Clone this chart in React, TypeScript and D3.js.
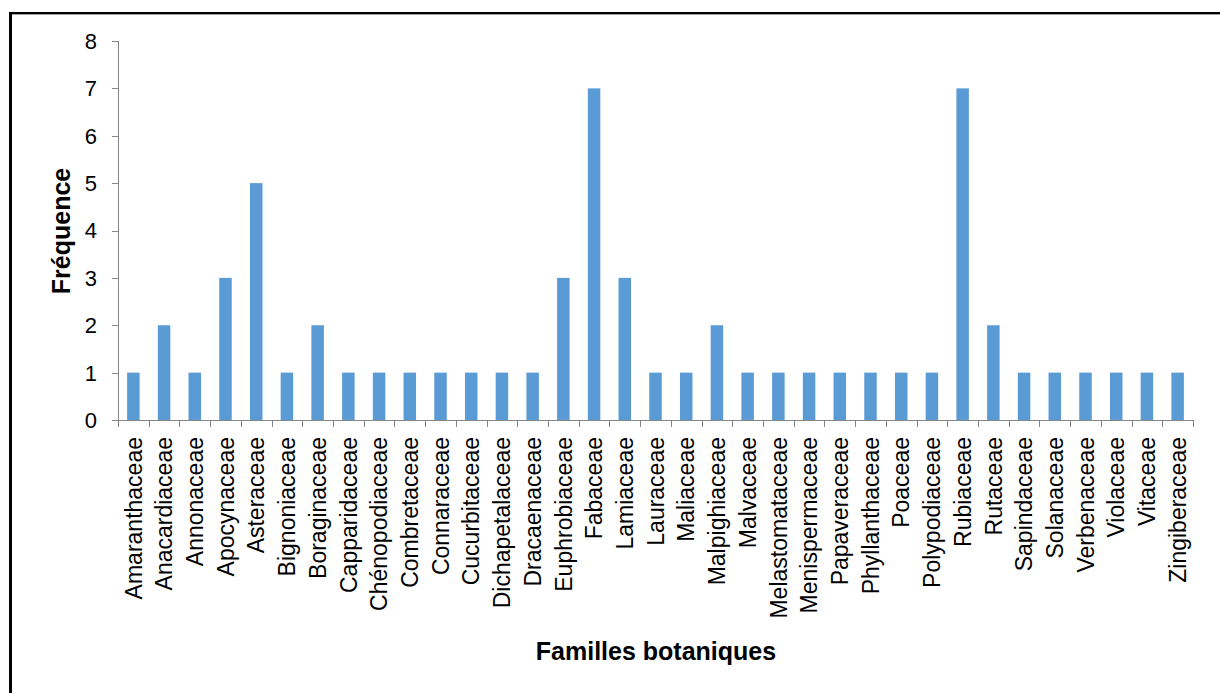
import React from "react";
import * as d3 from "d3";

const families = [
  "Amaranthaceae", "Anacardiaceae", "Annonaceae", "Apocynaceae", "Asteraceae",
  "Bignoniaceae", "Boraginaceae", "Capparidaceae", "Chénopodiaceae", "Combretaceae",
  "Connaraceae", "Cucurbitaceae", "Dichapetalaceae", "Dracaenaceae", "Euphrobiaceae",
  "Fabaceae", "Lamiaceae", "Lauraceae", "Maliaceae", "Malpighiaceae",
  "Malvaceae", "Melastomataceae", "Menispermaceae", "Papaveraceae", "Phyllanthaceae",
  "Poaceae", "Polypodiaceae", "Rubiaceae", "Rutaceae", "Sapindaceae",
  "Solanaceae", "Verbenaceae", "Violaceae", "Vitaceae", "Zingiberaceae",
];
const frequencies = [
  1, 2, 1, 3, 5,
  1, 2, 1, 1, 1,
  1, 1, 1, 1, 3,
  7, 3, 1, 1, 2,
  1, 1, 1, 1, 1,
  1, 1, 7, 2, 1,
  1, 1, 1, 1, 1,
];
const yTicks = [0, 1, 2, 3, 4, 5, 6, 7, 8];

const W = 1220, H = 693;
const left = 118, right = 1193, top = 41, bottom = 420;

export default function App() {
  const xb = d3.scaleBand<string>().domain(families).range([left, right]);
  const y = d3.scaleLinear().domain([0, 8]).range([bottom, top]);
  const font = "'Liberation Sans', Arial, sans-serif";
  const boundaries = d3.range(families.length + 1).map((i) => left + i * xb.step());
  return (
    <svg width={W} height={H} style={{ position: "absolute", left: 0, top: 0, background: "#fff" }}>
      <rect x={0} y={0} width={W} height={H} fill="#fff" />
      {/* frame */}
      <line x1={10.5} y1={12} x2={10.5} y2={H} stroke="#000" strokeWidth={3} />
      <line x1={9} y1={13} x2={W} y2={13} stroke="#000" strokeWidth={2} />
      <line x1={12} y1={14.5} x2={W} y2={14.5} stroke="#999" strokeWidth={1} />
      {/* bars */}
      {families.map((f, i) => (
        <rect key={f} x={xb(f)! + (xb.bandwidth() - 12.5) / 2} y={y(frequencies[i])} width={12.5}
          height={bottom - y(frequencies[i])} fill="#5B9BD5" />
      ))}
      {/* y axis */}
      <line x1={left + 0.5} y1={top} x2={left + 0.5} y2={bottom} stroke="#868686" />
      {yTicks.map((t) => (
        <g key={t}>
          <line x1={left - 6} x2={left} y1={Math.round(y(t)) + 0.5} y2={Math.round(y(t)) + 0.5} stroke="#868686" />
          <text x={97} y={y(t)} dy="0.36em" textAnchor="end" fontFamily={font} fontSize={22} fill="#000">{t}</text>
        </g>
      ))}
      {/* x axis */}
      <line x1={left} y1={bottom + 0.5} x2={right} y2={bottom + 0.5} stroke="#868686" />
      {boundaries.map((b, i) => (
        <line key={i} x1={Math.round(b) + 0.5} x2={Math.round(b) + 0.5} y1={bottom} y2={bottom + 7} stroke="#868686" />
      ))}
      {families.map((f) => {
        const cx = xb(f)! + xb.bandwidth() / 2;
        return (
          <text key={f} transform={`translate(${cx},437) rotate(-90)`} dy="0.36em" textAnchor="end"
            fontFamily={font} fontSize={23} fill="#000">{f}</text>
        );
      })}
      {/* titles */}
      <text transform={`translate(61,231) rotate(-90)`} dy="0.36em" textAnchor="middle" fontFamily={font}
        fontWeight="bold" fontSize={25} fill="#000">Fréquence</text>
      <text x={656} y={660} textAnchor="middle" fontFamily={font} fontWeight="bold" fontSize={25} fill="#000">Familles botaniques</text>
    </svg>
  );
}
